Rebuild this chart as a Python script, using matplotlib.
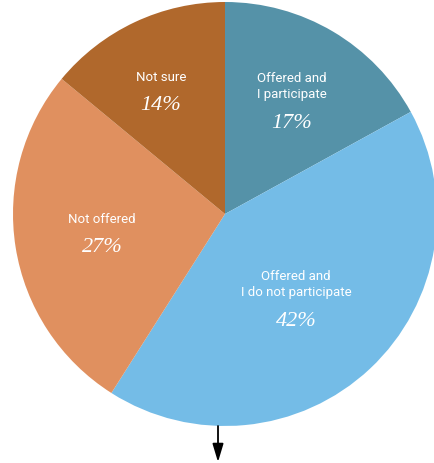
import numpy as np
import matplotlib
matplotlib.use("Agg")
import matplotlib.pyplot as plt

categories = ["Offered and\nI participate", "Offered and\nI do not participate", "Not offered", "Not sure"]
values = [17, 42, 27, 14]
pct_labels = ["17%", "42%", "27%", "14%"]
colors = ["#5592A8", "#74BCE7", "#E0905F", "#B0682C"]

# label anchor (centre of the percentage text), in pie-radius units
label_pos = [(0.316, 0.429), (0.335, -0.505), (-0.580, -0.160), (-0.302, 0.510)]

fig = plt.figure(figsize=(4.34, 4.63), dpi=100)
ax = fig.add_axes([13/434, 37/463, 424/434, 424/463])

wedges, _ = ax.pie(values, colors=colors, startangle=90, counterclock=False,
                   radius=1, wedgeprops=dict(linewidth=0))
ax.set_xlim(-1, 1)
ax.set_ylim(-1, 1)
ax.set_aspect("equal")
ax.axis("off")

sans = ["Roboto", "DejaVu Sans"]
for cat, pct, (x, y) in zip(categories, pct_labels, label_pos):
    ax.text(x, y + 0.102, cat, ha="center", va="bottom", color="white",
            fontsize=9.5, family=sans, linespacing=1.3)
    ax.text(x, y, pct, ha="center", va="center", color="white",
            fontsize=16, family=["Liberation Serif", "DejaVu Serif"], style="italic")

ax.annotate("", xy=(-0.033, -1.170), xytext=(-0.033, -1.0),
            arrowprops=dict(arrowstyle="-|>,head_width=0.33,head_length=1.1",
                            color="black", lw=1.3, shrinkA=0, shrinkB=0),
            annotation_clip=False)

fig.savefig("out.png", dpi=100)
